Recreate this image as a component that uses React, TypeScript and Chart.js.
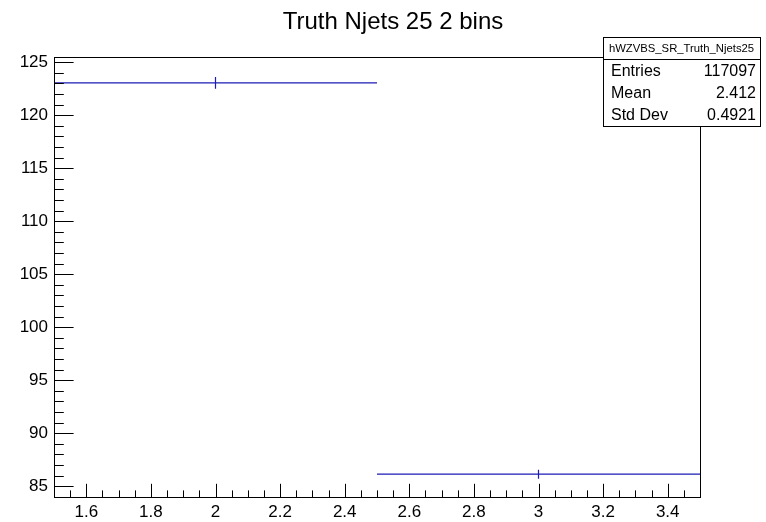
import React, { useEffect, useRef } from "react";
import { Chart, registerables } from "chart.js";

Chart.register(...registerables);

// ---- data ----
const chartTitle = "Truth Njets 25 2 bins";
const histName = "hWZVBS_SR_Truth_Njets25";
const binEdges = [1.5, 2.5, 3.5];
const binContents = [123.06, 86.13];
const binErrors = [0.55, 0.42];
const xTicks = [1.6, 1.8, 2, 2.2, 2.4, 2.6, 2.8, 3, 3.2, 3.4];
const yTicks = [85, 90, 95, 100, 105, 110, 115, 120, 125];
const xRange = [1.5, 3.5];
const yRange = [83.98, 125.5];
const statLabels = ["Entries", "Mean", "Std Dev"];
const statValues = ["117097", "2.412", "0.4921"];

const FONT = "'Liberation Sans', Arial, Helvetica, sans-serif";
const HIST_COLOR = "#1c1cb4";

const rootPlugin = {
  id: "rootStyle",
  afterDraw(chart: any) {
    const ctx = chart.ctx as CanvasRenderingContext2D;
    const { left, right, top, bottom } = chart.chartArea;
    const xs = chart.scales.x;
    const ys = chart.scales.y;
    ctx.save();
    ctx.strokeStyle = "#000";
    ctx.lineWidth = 1;
    // frame
    ctx.strokeRect(Math.round(left) + 0.5, Math.round(top) + 0.5, Math.round(right - left), Math.round(bottom - top));
    // x ticks (inside, from bottom)
    const xMajLen = 13.2;
    const xMinLen = 6.6;
    const nx = Math.round((xRange[1] - xRange[0]) / 0.05);
    ctx.beginPath();
    for (let k = 0; k <= nx; k++) {
      const v = xRange[0] + k * 0.05;
      const isMajor = xTicks.some((t) => Math.abs(t - v) < 1e-6);
      const px = Math.round(xs.getPixelForValue(v)) + 0.5;
      const len = isMajor ? xMajLen : xMinLen;
      ctx.moveTo(px, bottom);
      ctx.lineTo(px, bottom - len);
    }
    // y ticks (inside, from left)
    const yMajLen = 19.6;
    const yMinLen = 9.8;
    for (let v = Math.ceil(yRange[0]); v <= Math.floor(yRange[1]); v++) {
      const isMajor = yTicks.includes(v);
      const py = Math.round(ys.getPixelForValue(v)) + 0.5;
      const len = isMajor ? yMajLen : yMinLen;
      ctx.moveTo(left, py);
      ctx.lineTo(left + len, py);
    }
    ctx.stroke();

    // title
    ctx.fillStyle = "#000";
    ctx.font = `24px ${FONT}`;
    ctx.textAlign = "center";
    ctx.textBaseline = "alphabetic";
    ctx.fillText(chartTitle, 393, 28.5);

    // stats box
    const bx0 = 603, bx1 = 760, by0 = 37, by1 = 126;
    const rowH = (by1 - by0) / 4;
    ctx.fillStyle = "#fff";
    ctx.fillRect(bx0, by0, bx1 - bx0, by1 - by0);
    ctx.strokeRect(bx0 + 0.5, by0 + 0.5, bx1 - bx0, by1 - by0);
    ctx.beginPath();
    ctx.moveTo(bx0, Math.round(by0 + rowH) + 0.5);
    ctx.lineTo(bx1, Math.round(by0 + rowH) + 0.5);
    ctx.stroke();
    ctx.fillStyle = "#000";
    ctx.font = `11.3px ${FONT}`;
    ctx.textBaseline = "middle";
    ctx.textAlign = "center";
    ctx.fillText(histName, (bx0 + bx1) / 2, by0 + rowH / 2 + 1);
    ctx.font = `16px ${FONT}`;
    statLabels.forEach((lab, i) => {
      const cy = by0 + rowH * (i + 1.5) + 1;
      ctx.textAlign = "left";
      ctx.fillText(lab, bx0 + 8, cy);
      ctx.textAlign = "right";
      ctx.fillText(statValues[i], bx1 - 4, cy);
    });
    ctx.restore();
  },
};

export default function App() {
  const ref = useRef<HTMLCanvasElement | null>(null);
  useEffect(() => {
    if (!ref.current) return;
    const histPts: any[] = [];
    const errPts: any[] = [];
    binContents.forEach((c, i) => {
      histPts.push({ x: binEdges[i], y: c }, { x: binEdges[i + 1], y: c }, { x: binEdges[i + 1], y: null });
      const xc = (binEdges[i] + binEdges[i + 1]) / 2;
      errPts.push({ x: xc, y: c - binErrors[i] }, { x: xc, y: c + binErrors[i] }, { x: xc, y: null });
    });
    const chart = new Chart(ref.current, {
      type: "line",
      data: {
        datasets: [
          { data: histPts, borderColor: HIST_COLOR, borderWidth: 1.2, pointRadius: 0, spanGaps: false, fill: false },
          { data: errPts, borderColor: HIST_COLOR, borderWidth: 1.2, pointRadius: 0, spanGaps: false, fill: false },
        ],
      },
      options: {
        responsive: false,
        animation: false,
        devicePixelRatio: 1,
        layout: { padding: { top: 57, right: 66, left: 0, bottom: 0 } },
        plugins: { legend: { display: false }, tooltip: { enabled: false }, title: { display: false } },
        scales: {
          x: {
            type: "linear",
            min: xRange[0],
            max: xRange[1],
            grid: { display: false, drawTicks: false },
            border: { display: false },
            afterBuildTicks: (s: any) => {
              s.ticks = xTicks.map((v) => ({ value: v }));
            },
            afterFit: (s: any) => {
              s.height = 25;
            },
            ticks: {
              autoSkip: false,
              maxRotation: 0,
              padding: 5,
              color: "#000",
              font: { family: FONT, size: 17 },
              callback: (v: any) => String(Number(Number(v).toFixed(2))),
            },
          },
          y: {
            type: "linear",
            min: yRange[0],
            max: yRange[1],
            grid: { display: false, drawTicks: false },
            border: { display: false },
            afterBuildTicks: (s: any) => {
              s.ticks = yTicks.map((v) => ({ value: v }));
            },
            afterFit: (s: any) => {
              s.width = 54;
            },
            ticks: {
              autoSkip: false,
              padding: 6,
              color: "#000",
              font: { family: FONT, size: 17 },
              callback: (v: any) => String(v),
            },
          },
        },
      },
      plugins: [rootPlugin],
    });
    return () => chart.destroy();
  }, []);
  return (
    <div style={{ position: "absolute", left: 0, top: 0, width: 766, height: 522, background: "#fff" }}>
      <canvas ref={ref} width={766} height={522} style={{ width: 766, height: 522, display: "block" }} />
    </div>
  );
}
